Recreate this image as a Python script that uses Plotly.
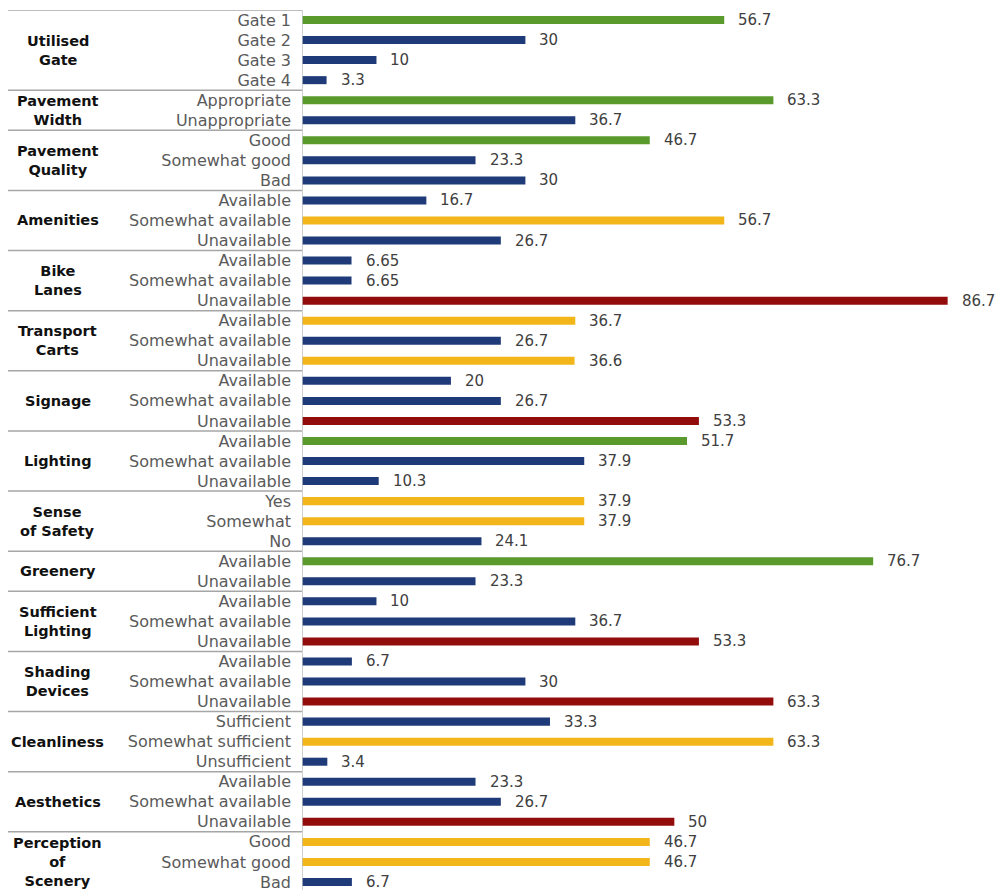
import plotly.graph_objects as go

groups = ["Utilised<br>Gate", "Pavement<br>Width", "Pavement<br>Quality", "Amenities",
          "Bike<br>Lanes", "Transport<br>Carts", "Signage", "Lighting",
          "Sense<br>of Safety", "Greenery", "Sufficient<br>Lighting", "Shading<br>Devices",
          "Cleanliness", "Aesthetics", "Perception<br>of<br>Scenery"]
group_sizes = [4, 2, 3, 3, 3, 3, 3, 3, 3, 2, 3, 3, 3, 3, 3]

categories = ["Gate 1", "Gate 2", "Gate 3", "Gate 4",
              "Appropriate", "Unappropriate",
              "Good", "Somewhat good", "Bad",
              "Available", "Somewhat available", "Unavailable",
              "Available", "Somewhat available", "Unavailable",
              "Available", "Somewhat available", "Unavailable",
              "Available", "Somewhat available", "Unavailable",
              "Available", "Somewhat available", "Unavailable",
              "Yes", "Somewhat", "No",
              "Available", "Unavailable",
              "Available", "Somewhat available", "Unavailable",
              "Available", "Somewhat available", "Unavailable",
              "Sufficient", "Somewhat sufficient", "Unsufficient",
              "Available", "Somewhat available", "Unavailable",
              "Good", "Somewhat good", "Bad"]

values = [56.7, 30, 10, 3.3,
          63.3, 36.7,
          46.7, 23.3, 30,
          16.7, 56.7, 26.7,
          6.65, 6.65, 86.7,
          36.7, 26.7, 36.6,
          20, 26.7, 53.3,
          51.7, 37.9, 10.3,
          37.9, 37.9, 24.1,
          76.7, 23.3,
          10, 36.7, 53.3,
          6.7, 30, 63.3,
          33.3, 63.3, 3.4,
          23.3, 26.7, 50,
          46.7, 46.7, 6.7]

# colour class per bar: G=green, N=navy, Y=yellow, R=red
classes = ["G", "N", "N", "N",
           "G", "N",
           "G", "N", "N",
           "N", "Y", "N",
           "N", "N", "R",
           "Y", "N", "Y",
           "N", "N", "R",
           "G", "N", "N",
           "Y", "Y", "N",
           "G", "N",
           "N", "N", "R",
           "N", "N", "R",
           "N", "Y", "N",
           "N", "N", "R",
           "Y", "Y", "N"]

palette = {"G": "#5A9A2C", "N": "#1F3A78", "Y": "#F2B51A", "R": "#920C0C"}

rows = list(range(len(categories)))

fig = go.Figure()
fig.add_trace(go.Bar(
    x=values, y=rows, orientation="h",
    marker=dict(color=[palette[c] for c in classes], line=dict(width=0)),
    width=0.4,
    hoverinfo="x",
))

# value labels
for r, v in zip(rows, values):
    fig.add_annotation(x=v, y=r, xref="x", yref="y", text=f"{v:g}",
                       showarrow=False, xanchor="left", xshift=12,
                       font=dict(family="DejaVu Sans", size=15, color="#404040"))

# group labels and separators
start = 0
for g, n in zip(groups, group_sizes):
    center = start + (n - 1) / 2
    fig.add_annotation(x=-0.349, y=center, xref="paper", yref="y", text=f"<b>{g}</b>",
                       showarrow=False, xanchor="center", yanchor="middle",
                       font=dict(family="DejaVu Sans", size=14.5, color="#111111"))
    fig.add_shape(type="line", xref="paper", yref="y", x0=-0.42, x1=0,
                  y0=start - 0.5, y1=start - 0.5,
                  line=dict(color="#A6A6A6", width=1.5))
    start += n

fig.update_layout(
    width=1002, height=892,
    margin=dict(l=302, r=0, t=10, b=0),
    plot_bgcolor="white", paper_bgcolor="white",
    showlegend=False,
    xaxis=dict(range=[0, 94], visible=False, fixedrange=True),
    yaxis=dict(range=[43.4, -0.5], tickmode="array", tickvals=rows, ticktext=categories,
               showgrid=False, zeroline=False, ticks="", showline=False,
               ticklabelstandoff=10, ticklabeloverflow="allow",
               tickfont=dict(family="DejaVu Sans", size=16, color="#5A5A5A")),
)

fig.add_shape(type="line", xref="x", yref="paper", x0=0, x1=0, y0=0, y1=1,
              line=dict(color="#BFBFBF", width=1.5))

fig.write_html("out.html")
